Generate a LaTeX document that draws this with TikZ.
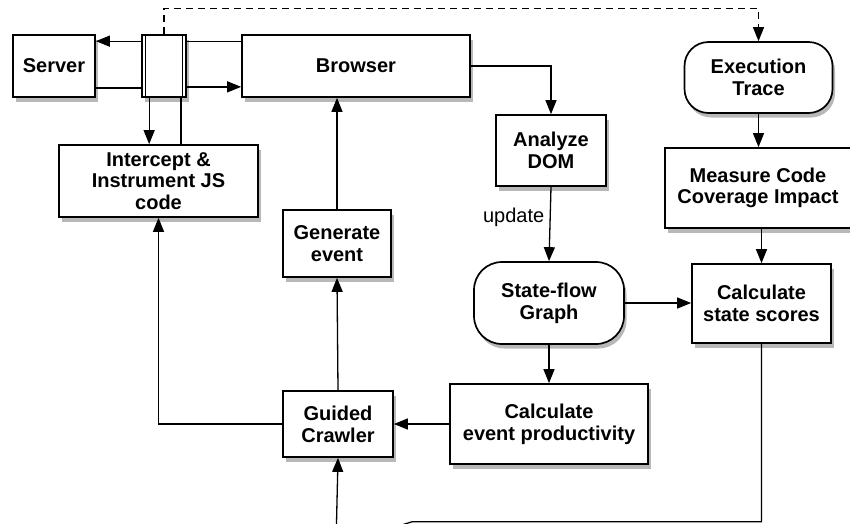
\documentclass[tikz,border=0pt]{standalone}
\usepackage{fontspec}
\setmainfont{Liberation Sans}
\usetikzlibrary{arrows.meta,shadows,calc}
\begin{document}
\begin{tikzpicture}[x=1pt,y=-1pt,
  boxbase/.style={draw=black, line width=1.7pt, fill=white, align=center, inner sep=0pt,
    font=\fontsize{20}{21.7}\selectfont\bfseries,
    drop shadow={shadow xshift=2.5pt, shadow yshift=-4.5pt, opacity=0.28, fill=black}},
  box/.style={boxbase, rectangle},
  roundbox/.style={boxbase, rectangle, rounded corners=#1},
  conn/.style={line width=1.3pt},
  arr/.style={conn, -{Triangle[length=14pt,width=11pt]}},
  lbl/.style={font=\fontsize{20}{21.7}\selectfont}
]
\useasboundingbox (0,0) rectangle (850,523);
\fill[white] (0,0) rectangle (850,523);

% nodes
\node[box, minimum width=82pt, minimum height=62pt] (server) at (54,66) {Server};
\node[box, minimum width=44pt, minimum height=62pt] (proxy) at (164,66) {};
\node[box, minimum width=228pt, minimum height=62pt] (browser) at (356,66) {Browser};
\node[box, minimum width=199pt, minimum height=72pt] (intercept) at (158.5,181) {Intercept \&\\Instrument JS\\code};
\node[roundbox=24pt, minimum width=148pt, minimum height=71pt] (exec) at (758.5,77.5) {Execution\\Trace};
\node[box, minimum width=186pt, minimum height=80pt] (measure) at (758,188) {Measure Code\\Coverage Impact};
\node[box, minimum width=139pt, minimum height=79pt] (scores) at (761.5,303.5) {Calculate\\state scores};
\node[box, minimum width=110pt, minimum height=71pt] (analyze) at (551,150.5) {Analyze\\DOM};
\node[roundbox=28pt, minimum width=150pt, minimum height=82pt] (stateflow) at (549,303) {State-flow\\Graph};
\node[box, minimum width=198pt, minimum height=80pt] (eventprod) at (549,424) {Calculate\\event productivity};
\node[box, minimum width=110pt, minimum height=66pt] (crawler) at (338,424) {Guided\\Crawler};
\node[box, minimum width=108pt, minimum height=67pt] (generate) at (337,243.5) {Generate\\event};

% proxy inner bars
\draw[line width=1.3pt] ([xshift=4.5pt]proxy.north west) -- ([xshift=4.5pt]proxy.south west);
\draw[line width=1.3pt] ([xshift=-4.5pt]proxy.north east) -- ([xshift=-4.5pt]proxy.south east);

% proxy connections
\draw[arr] ([yshift=-7pt]proxy.north west) -- ([yshift=-7pt]server.north east);
\draw[conn] ([yshift=10pt]server.south east) -- ([yshift=10pt]proxy.south west);
\draw[conn] ([yshift=-7pt]proxy.north east) -- ([yshift=-7pt]browser.north west);
\draw[arr] ([yshift=11pt]proxy.south east) -- ([yshift=11pt]browser.south west);
\coordinate (pd1) at ([xshift=8pt]proxy.south west);
\coordinate (pd2) at ([xshift=-6pt]proxy.south east);
\draw[arr] (pd1) -- (pd1 |- intercept.north);
\draw[conn] (pd2 |- intercept.north) -- (pd2);

% dashed trace
\coordinate (dtop) at ([yshift=33pt]exec.north);
\draw[arr, dash pattern=on 7pt off 5pt] (proxy.north) |- (dtop) -- (exec.north);

% main flow
\draw[arr] (browser.east) -| (analyze.north);
\draw[arr] (analyze.south) -- node[lbl, pos=0.41, left=2pt] {update} (stateflow.north);
\draw[arr] (stateflow.east) -- (stateflow.east -| scores.west);
\draw[arr] (exec.south) -- (exec.south |- measure.north);
\draw[arr] (measure.south -| scores.north) -- (scores.north);
\draw[arr] (stateflow.south) -- (eventprod.north);
\draw[arr] (eventprod.west) -- (eventprod.west -| crawler.east);
\draw[arr] (crawler.north) -- (generate.south);
\draw[arr] (generate.north) -- (generate.north |- browser.south);
\draw[arr] (crawler.west) -| (intercept.south);

% feedback along the bottom
\coordinate (bk1) at (412,521.8);
\coordinate (bk2) at (336,545);
\draw[arr] (scores.south) |- (bk1) -- (bk2) -- (crawler.south);
\end{tikzpicture}
\end{document}
